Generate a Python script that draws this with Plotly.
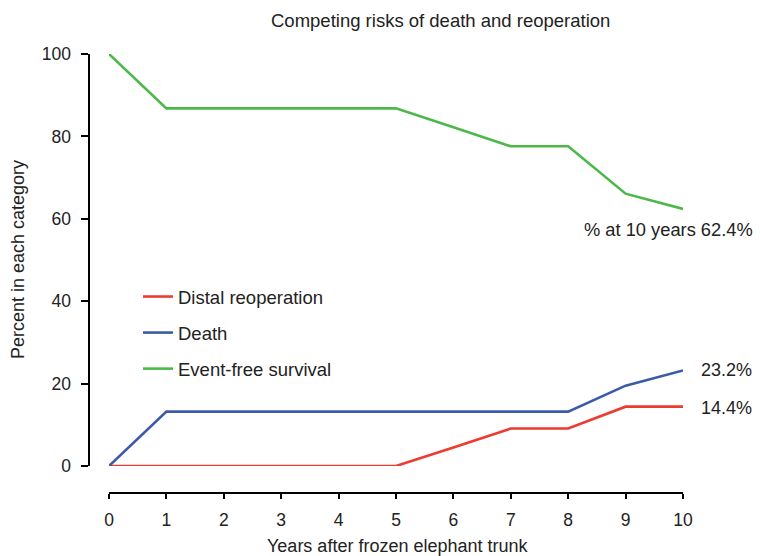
import plotly.graph_objects as go

years = [0, 1, 2, 3, 4, 5, 6, 7, 8, 9, 10]
distal_reoperation = [0, 0, 0, 0, 0, 0, 4.5, 9.1, 9.1, 14.4, 14.4]
death = [0, 13.2, 13.2, 13.2, 13.2, 13.2, 13.2, 13.2, 13.2, 19.5, 23.2]
event_free = [100, 86.8, 86.8, 86.8, 86.8, 86.8, 82.2, 77.6, 77.6, 66.1, 62.4]

series_names = ["Distal reoperation", "Death", "Event-free survival"]
series_colors = ["#EE3B30", "#3B5BA9", "#4CB848"]
end_labels = ["14.4%", "23.2%", "% at 10 years 62.4%"]

FONT = "Liberation Sans, Arial, Helvetica, sans-serif"
TXT = "#222"
W, H = 760, 556

fig = go.Figure()
for i, (name, vals, col) in enumerate(zip(series_names, [distal_reoperation, death, event_free], series_colors)):
    fig.add_trace(go.Scatter(
        x=years, y=vals, mode="lines", name=name,
        line=dict(color=col, width=2.6), cliponaxis=False,
        legendgroup=f"g{i}",
    ))

# end labels
fig.add_annotation(x=years[-1], y=distal_reoperation[-1], text=end_labels[0], xref="x", yref="y",
                   xanchor="left", yanchor="middle", xshift=16, yshift=-1, showarrow=False,
                   font=dict(size=18, color=TXT, family=FONT))
fig.add_annotation(x=years[-1], y=death[-1], text=end_labels[1], xref="x", yref="y",
                   xanchor="left", yanchor="middle", xshift=16, showarrow=False,
                   font=dict(size=18, color=TXT, family=FONT))
fig.add_annotation(x=years[-1], y=event_free[-1], text=end_labels[2], xref="x", yref="y",
                   xanchor="right", yanchor="middle", xshift=72, yshift=-21, showarrow=False,
                   font=dict(size=18.3, color=TXT, family=FONT))

# titles
fig.add_annotation(x=440 / W, y=(H - 20) / H, xref="paper", yref="paper", text="Competing risks of death and reoperation",
                   showarrow=False, xanchor="center", yanchor="middle", font=dict(size=18.5, color=TXT, family=FONT))
fig.add_annotation(x=18 / W, y=(H - 260) / H, xref="paper", yref="paper", text="Percent in each category",
                   showarrow=False, textangle=-90, xanchor="center", yanchor="middle",
                   font=dict(size=18, color=TXT, family=FONT))
fig.add_annotation(x=397 / W, y=(H - 546) / H, xref="paper", yref="paper", text="Years after frozen elephant trunk",
                   showarrow=False, xanchor="center", yanchor="middle", font=dict(size=18, color=TXT, family=FONT))

fig.update_layout(
    width=W, height=H,
    margin=dict(l=0, r=0, t=0, b=0, autoexpand=False),
    paper_bgcolor="white", plot_bgcolor="white",
    font=dict(family=FONT, size=18, color=TXT),
    showlegend=True,
    legend=dict(x=138 / W, y=(H - 278) / H, xanchor="left", yanchor="top",
                bgcolor="rgba(0,0,0,0)", tracegroupgap=9, traceorder="grouped",
                font=dict(size=18.5, color=TXT, family=FONT)),
    xaxis=dict(
        domain=[109 / W, 683 / W], range=[0, 10], anchor="free", position=(H - 493) / H,
        tickmode="array", tickvals=years, ticktext=[str(v) for v in years],
        showgrid=False, zeroline=False, showline=True, linecolor="black", linewidth=2,
        ticks="outside", ticklen=5, tickwidth=2, tickcolor="black", ticklabelstandoff=6,
        tickfont=dict(size=17.5, color=TXT, family=FONT), automargin=False,
    ),
    yaxis=dict(
        domain=[(H - 466) / H, (H - 54) / H], range=[0, 100], anchor="free", position=88.5 / W,
        tickmode="array", tickvals=[0, 20, 40, 60, 80, 100],
        showgrid=False, zeroline=False, showline=True, linecolor="black", linewidth=2,
        ticks="outside", ticklen=7, tickwidth=2, tickcolor="black", ticklabelstandoff=6,
        tickfont=dict(size=17.5, color=TXT, family=FONT), automargin=False,
    ),
)

fig.write_html("out.html", config={"displayModeBar": False},
               post_script="document.body.style.margin='0';document.body.style.overflow='hidden';")
